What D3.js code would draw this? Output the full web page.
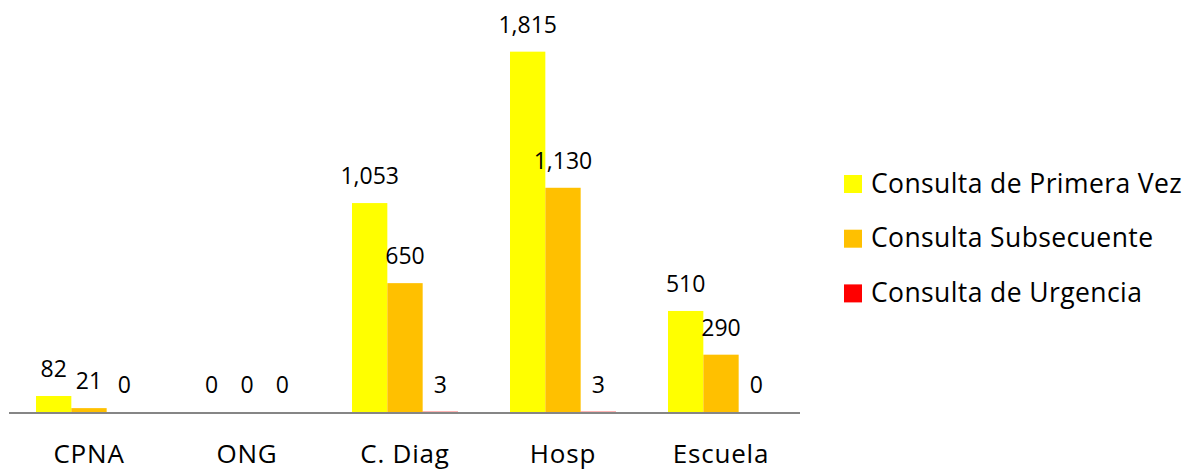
<!DOCTYPE html>
<html>
<head>
<meta charset="utf-8">
<script src="https://cdn.jsdelivr.net/npm/d3@7"></script>
<style>
  html, body { margin: 0; padding: 0; background: #fff; }
  svg { display: block; font-family: "Open Sans", Lato, sans-serif; }
</style>
</head>
<body>
<svg id="chart" width="1199" height="470"></svg>
<script>
const categories = ["CPNA", "ONG", "C. Diag", "Hosp", "Escuela"];
const seriesNames = ["Consulta de Primera Vez", "Consulta Subsecuente", "Consulta de Urgencia"];
const primeraVez = [82, 0, 1053, 1815, 510];
const subsecuente = [21, 0, 650, 1130, 290];
const urgencia = [0, 0, 3, 3, 0];
const seriesColors = ["#FFFF00", "#FFC000", "#FF0000"];
const yMax = 2000;

const seriesValues = [primeraVez, subsecuente, urgencia];
const fmt = d3.format(",");

const svg = d3.select("#chart");

const x0 = d3.scaleBand().domain(categories).range([10, 800]).paddingInner(0).paddingOuter(0);
const x1 = d3.scaleBand().domain(d3.range(seriesNames.length)).range([26, x0.bandwidth() - 26]);
const y = d3.scaleLinear().domain([0, yMax]).range([412.3, 14.9]);

// bars
const groups = svg.append("g").selectAll("g")
  .data(categories)
  .join("g")
  .attr("transform", d => `translate(${x0(d)},0)`);

groups.selectAll("rect")
  .data((c, ci) => seriesValues.map((vals, si) => ({ si, v: vals[ci] })))
  .join("rect")
  .attr("x", d => x1(d.si))
  .attr("width", x1.bandwidth())
  .attr("y", d => y(d.v))
  .attr("height", d => y(0) - y(d.v))
  .attr("fill", d => seriesColors[d.si]);

groups.selectAll("text")
  .data((c, ci) => seriesValues.map((vals, si) => ({ si, v: vals[ci] })))
  .join("text")
  .attr("x", d => x1(d.si) + x1.bandwidth() / 2)
  .attr("y", d => y(d.v) - 19)
  .attr("text-anchor", "middle")
  .attr("font-size", 23)
  .attr("fill", "#000")
  .text(d => fmt(d.v));

// x axis
const xAxis = d3.axisBottom(x0).tickSize(0).tickPadding(0);
const axisG = svg.append("g").attr("transform", "translate(0,413)").call(xAxis);
axisG.select(".domain").attr("stroke", "#868686").attr("stroke-width", 2).attr("d", "M9,0H800");
axisG.selectAll(".tick text")
  .attr("font-family", "'Open Sans', Lato, sans-serif")
  .attr("font-size", 26)
  .attr("letter-spacing", 0.8)
  .attr("fill", "#000")
  .attr("dy", null)
  .attr("y", 50);

// legend
const legend = svg.append("g").selectAll("g")
  .data(seriesNames)
  .join("g")
  .attr("transform", (d, i) => `translate(844,${175 + i * 54.7})`);
legend.append("rect").attr("width", 18).attr("height", 18).attr("fill", (d, i) => seriesColors[i]);
legend.append("text")
  .attr("x", 27)
  .attr("y", 17.5)
  .attr("font-size", 26.5)
  .attr("letter-spacing", 0.4)
  .attr("fill", "#000")
  .text(d => d);
</script>
</body>
</html>
